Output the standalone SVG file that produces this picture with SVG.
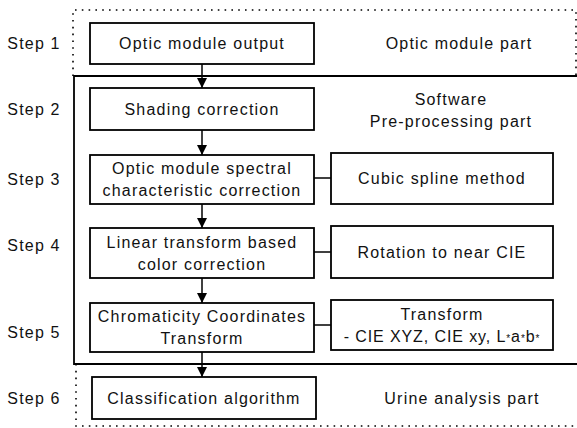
<svg xmlns="http://www.w3.org/2000/svg" width="577" height="428" viewBox="0 0 577 428">
<defs>
<marker id="ah" markerUnits="userSpaceOnUse" markerWidth="12" markerHeight="12" refX="10" refY="5" orient="auto">
<path d="M0,0 L10,5 L0,10 Z" fill="#000"/>
</marker>
<style>
text{font-family:"Liberation Sans",Arial,sans-serif;font-size:16px;letter-spacing:1.2px;fill:#111;text-anchor:middle}
.box{fill:#fff;stroke:#000;stroke-width:1.8}
.dot{fill:none;stroke:#000;stroke-width:1.6;stroke-dasharray:1.6 5.2}
.frame{fill:none;stroke:#000;stroke-width:1.8}
.con{fill:none;stroke:#000;stroke-width:1.5}
</style>
</defs>
<rect width="577" height="428" fill="#fff"/>
<g id="regions">
<path class="dot" d="M73,76 V10 H576 V76"/>
<path class="frame" d="M577,76 H74 V364 H577"/>
<path class="dot" d="M76,364 V426 H577"/>
</g>
<g id="labels">
<text x="34" y="49">Step 1</text>
<text x="34" y="115">Step 2</text>
<text x="34" y="185">Step 3</text>
<text x="34" y="251">Step 4</text>
<text x="34" y="338">Step 5</text>
<text x="34" y="404">Step 6</text>
<text x="459" y="49">Optic module part</text>
<text x="451" y="104.5">Software</text>
<text x="451" y="126.5">Pre-processing part</text>
<text x="462" y="403.5">Urine analysis part</text>
</g>
<g id="connectors">
<line class="con" x1="202" y1="64" x2="202" y2="88" marker-end="url(#ah)"/>
<line class="con" x1="202" y1="130" x2="202" y2="155" marker-end="url(#ah)"/>
<line class="con" x1="202" y1="204" x2="202" y2="228" marker-end="url(#ah)"/>
<line class="con" x1="202" y1="278" x2="202" y2="303" marker-end="url(#ah)"/>
<line class="con" x1="202" y1="352" x2="202" y2="377" marker-end="url(#ah)"/>
<line class="con" x1="314" y1="178" x2="331" y2="178"/>
<line class="con" x1="314" y1="252" x2="331" y2="252"/>
<line class="con" x1="314" y1="325" x2="331" y2="325"/>
</g>
<g id="n1"><rect class="box" x="90" y="23" width="224" height="41"/><text x="202" y="49">Optic module output</text></g>
<g id="n2"><rect class="box" x="90" y="88" width="224" height="42"/><text x="202" y="114.5">Shading correction</text></g>
<g id="n3"><rect class="box" x="90" y="155" width="224" height="49"/><text x="202" y="174">Optic module spectral</text><text x="202" y="196">characteristic correction</text></g>
<g id="n3r"><rect class="box" x="331" y="153" width="222" height="51"/><text x="442" y="184">Cubic spline method</text></g>
<g id="n4"><rect class="box" x="90" y="228" width="224" height="50"/><text x="202" y="247.5">Linear transform based</text><text x="202" y="269.5">color correction</text></g>
<g id="n4r"><rect class="box" x="331" y="226" width="222" height="52"/><text x="442" y="257.5">Rotation to near CIE</text></g>
<g id="n5"><rect class="box" x="90" y="303" width="224" height="49"/><text x="202" y="321.5">Chromaticity Coordinates</text><text x="202" y="343.5">Transform</text></g>
<g id="n5r"><rect class="box" x="331" y="300" width="222" height="50"/><text x="442" y="319.5">Transform</text><text x="442" y="341.5" style="letter-spacing:0.9px">- CIE XYZ, CIE xy, L<tspan font-size="10">*</tspan>a<tspan font-size="10">*</tspan>b<tspan font-size="10">*</tspan></text></g>
<g id="n6"><rect class="box" x="92" y="377" width="224" height="42"/><text x="204" y="403.5">Classification algorithm</text></g>
</svg>
